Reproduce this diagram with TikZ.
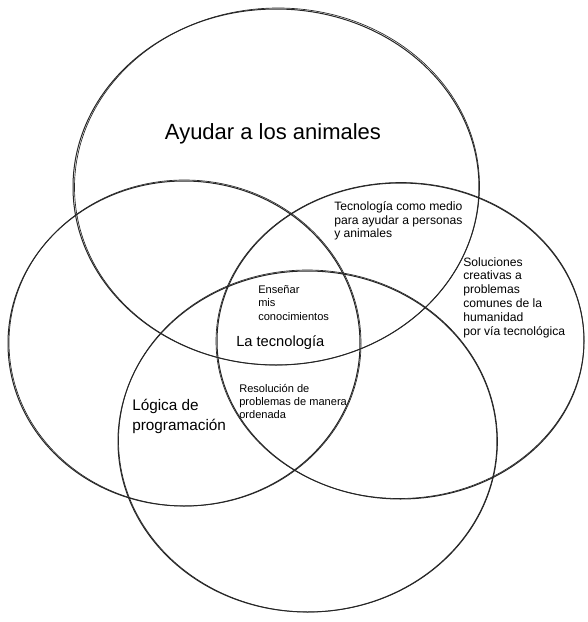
\documentclass[tikz,border=0pt]{standalone}
\usepackage{fontspec}
\setmainfont{Liberation Sans}
\tikzset{
  ring/.style={draw=black!85, line width=0.75pt},
  ring2/.style={draw=black!85, line width=0.5pt},
  big/.style={font=\fontsize{16.5}{20}\selectfont, inner sep=0pt},
  mid/.style={font=\fontsize{11.5}{15}\selectfont, inner sep=0pt, align=left, anchor=north west},
  smalltxt/.style={font=\fontsize{9.1}{10.4}\selectfont, inner sep=0pt, align=left, anchor=north west},
  tinytxt/.style={font=\fontsize{8.3}{10.3}\selectfont, inner sep=0pt, align=left, anchor=north west},
  tinytxtb/.style={font=\fontsize{8.3}{9.75}\selectfont, inner sep=0pt, align=left, anchor=north west}
}
\begin{document}
\begin{tikzpicture}[x=0.75pt,y=-0.75pt]
\useasboundingbox[fill=white] (0,0) rectangle (588,622);
% top ellipse
\draw[ring] (276,187) ellipse [x radius=203, y radius=178];
\draw[ring2] (277,186.5) ellipse [x radius=202.5, y radius=178.5, rotate=1];
% left ellipse
\draw[ring] (184,343.5) ellipse [x radius=176, y radius=162.5];
\draw[ring2] (185,343) ellipse [x radius=176, y radius=163, rotate=-1];
% right ellipse
\draw[ring] (400.5,341) ellipse [x radius=183.5, y radius=158];
\draw[ring2] (400,340.5) ellipse [x radius=184, y radius=158, rotate=0.8];
% bottom ellipse
\draw[ring] (307.5,441.5) ellipse [x radius=189.5, y radius=170.5];
\draw[ring2] (308,441) ellipse [x radius=189.5, y radius=171, rotate=-0.8];

\node[big] (ayudar) at (273,134) {Ayudar a los animales};
\node[smalltxt] (tecmedio) at (334,201) {Tecnología como medio\\para ayudar a personas\\y animales};
\node[smalltxt,font=\fontsize{9.1}{10.35}\selectfont] (soluciones) at (463,257) {Soluciones\\creativas a\\problemas\\comunes de la\\humanidad\\por vía tecnológica};
\node[tinytxt] (ensenar) at (258,285) {Enseñar\\mis\\conocimientos};
\node[font=\fontsize{11}{13}\selectfont, inner sep=0pt, anchor=west] (latec) at (236,343) {La tecnología};
\node[tinytxtb] (resolucion) at (239,384.5) {Resolución de\\problemas de manera\\ordenada};
\node[mid] (logica) at (132,398.5) {Lógica de\\programación};
\end{tikzpicture}
\end{document}
